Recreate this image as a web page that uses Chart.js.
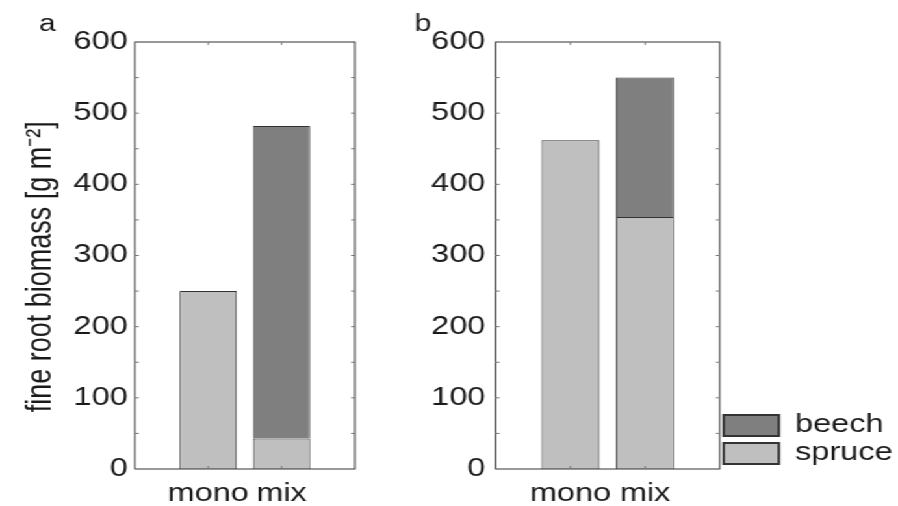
<!DOCTYPE html>
<html>
<head>
<meta charset="utf-8">
<script src="https://cdn.jsdelivr.net/npm/chart.js@4.4.1/dist/chart.umd.min.js"></script>
<style>
  html, body { margin: 0; padding: 0; background: #fff; overflow: hidden; }
  /* the original figure is stretched sideways, so draw narrow and widen */
  #stage { position: relative; width: 691px; height: 506px; transform: scaleX(1.2996); transform-origin: 0 0; }
  #stage canvas { position: absolute; top: 0; }
  #chartA { left: 0; }
  #chartB { left: 300px; }
</style>
</head>
<body>
<div id="stage">
  <canvas id="chartA" width="300" height="506"></canvas>
  <canvas id="chartB" width="391" height="506"></canvas>
</div>
<script>
// fine root biomass [g m-2]
const categories = ['mono', 'mix'];
const spruceA = [250, 43];
const beechA = [null, 439];
const spruceB = [462, 354];
const beechB = [null, 196];
const yMin = 0, yMax = 600, yStep = 100;

const BEECH = '#7f7f7f';
const SPRUCE = '#bfbfbf';
const EDGE = '#333333';
const TEXT = '#1a1a1a';
const FONT = '"Liberation Sans", Arial, sans-serif';

Chart.defaults.font.family = FONT;
Chart.defaults.color = TEXT;
Chart.defaults.animation = false;

// categories sit at x = 1, 2 on a 0..3 axis
function toPoints(values) {
  return values.map((v, i) => ({ x: i + 1, y: v }));
}

// box round the plot, small inward ticks and the panel letter
const framePlugin = {
  id: 'frame',
  afterDraw(chart, args, opts) {
    const { ctx, chartArea: a, scales } = chart;
    ctx.save();
    ctx.strokeStyle = EDGE;
    ctx.lineWidth = 1;
    ctx.strokeRect(a.left, a.top, a.right - a.left, a.bottom - a.top);
    ctx.strokeStyle = '#777';
    ctx.beginPath();
    for (let v = yMin + 50; v < yMax; v += 50) {
      const y = scales.y.getPixelForValue(v);
      ctx.moveTo(a.left, y); ctx.lineTo(a.left + 3, y);
      ctx.moveTo(a.right, y); ctx.lineTo(a.right - 3, y);
    }
    categories.forEach((c, i) => {
      const x = scales.x.getPixelForValue(i + 1);
      ctx.moveTo(x, a.top); ctx.lineTo(x, a.top + 3);
      ctx.moveTo(x, a.bottom); ctx.lineTo(x, a.bottom - 3);
    });
    ctx.stroke();
    ctx.fillStyle = TEXT;
    ctx.font = '23px ' + FONT;
    ctx.fillText(opts.letter, opts.x, opts.y);
    ctx.restore();
  }
};

function makePanel(id, spruce, beech, cfg) {
  return new Chart(document.getElementById(id), {
    type: 'bar',
    data: {
      datasets: [
        { label: 'spruce', data: toPoints(spruce), backgroundColor: SPRUCE, borderColor: EDGE, borderWidth: 1 },
        { label: 'beech', data: toPoints(beech), backgroundColor: BEECH, borderColor: EDGE, borderWidth: 1 }
      ]
    },
    options: {
      responsive: false,
      devicePixelRatio: 1,
      categoryPercentage: 1,
      barPercentage: 0.78,
      layout: { padding: { top: 42, right: cfg.padRight, bottom: 0, left: 0 } },
      plugins: {
        tooltip: { enabled: false },
        frame: { letter: cfg.letter, x: cfg.letterX, y: 31 },
        legend: cfg.legend
      },
      scales: {
        x: {
          type: 'linear', min: 0, max: 3, stacked: true, offset: false,
          grid: { display: false, drawTicks: false, offset: false }, border: { display: false },
          ticks: {
            stepSize: 1, autoSkip: false, maxRotation: 0, padding: 10,
            font: { size: 25 },
            callback: v => categories[v - 1] || ''
          },
          afterFit: s => { s.height = 37; }
        },
        y: {
          min: yMin, max: yMax, stacked: true,
          grid: { display: false, drawTicks: false }, border: { display: false },
          ticks: { stepSize: yStep, padding: cfg.tickPad, font: { size: 25 } },
          title: cfg.yTitle,
          afterFit: s => { s.width = cfg.axisWidth; }
        }
      }
    },
    plugins: [framePlugin]
  });
}

makePanel('chartA', spruceA, beechA, {
  letter: 'a', letterX: 30, padRight: 26.9, axisWidth: 103.8, tickPad: 5.5,
  legend: { display: false },
  // trailing spaces push the centred label a little lower, as in the figure
  yTitle: { display: true, text: 'fine root biomass [g m⁻²]   ', font: { size: 27 }, padding: { top: 15, bottom: 0 } }
});

makePanel('chartB', spruceB, beechB, {
  letter: 'b', letterX: 19, padRight: 4.2, axisWidth: 81.5, tickPad: 8,
  yTitle: { display: false },
  legend: {
    display: true, position: 'right', align: 'end', reverse: true, maxWidth: 133, fullSize: false,
    labels: {
      boxWidth: 42.5, boxHeight: 21, padding: 3, font: { size: 25 }, color: TEXT,
      generateLabels: chart => Chart.defaults.plugins.legend.labels.generateLabels(chart)
        .map(item => Object.assign(item, { lineWidth: 2 }))
    }
  }
});
</script>
</body>
</html>
